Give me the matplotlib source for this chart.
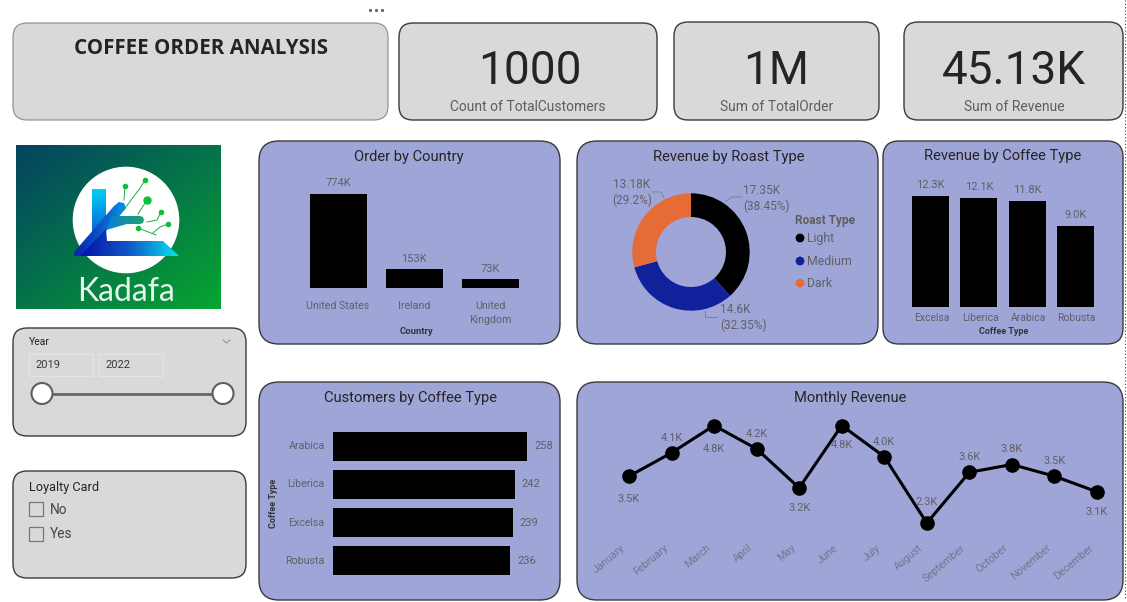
import numpy as np
import matplotlib
matplotlib.use("Agg")
import matplotlib.pyplot as plt
from matplotlib.patches import FancyBboxPatch, Rectangle, Circle, Polygon
from matplotlib.colors import LinearSegmentedColormap

W, H = 1127, 602

# ---- data ----
kpi_values = ["1000", "1M", "45.13K"]
kpi_labels = ["Count of TotalCustomers", "Sum of TotalOrder", "Sum of Revenue"]

countries = ["United States", "Ireland", "United\nKingdom"]
country_orders = [774, 153, 73]
country_labels = ["774K", "153K", "73K"]

roast_types = ["Light", "Medium", "Dark"]
roast_revenue = [17.35, 14.6, 13.18]
roast_labels = ["17.35K\n(38.45%)", "14.6K\n(32.35%)", "13.18K\n(29.2%)"]

coffee_types = ["Excelsa", "Liberica", "Arabica", "Robusta"]
coffee_revenue = [12.3, 12.1, 11.8, 9.0]
coffee_labels = ["12.3K", "12.1K", "11.8K", "9.0K"]

customer_types = ["Arabica", "Liberica", "Excelsa", "Robusta"]
customer_counts = [258, 242, 239, 236]

months = ["January", "February", "March", "April", "May", "June", "July",
          "August", "September", "October", "November", "December"]
monthly_revenue = [3.5, 4.1, 4.8, 4.2, 3.2, 4.8, 4.0, 2.3, 3.6, 3.8, 3.5, 3.1]

year_range = ["2019", "2022"]
loyalty_options = ["No", "Yes"]

# ---- style ----
CARD_GREY = "#d9d9d9"
CARD_BLUE = "#a0a5d8"
EDGE = "#3a3a3a"
TITLE = "#252423"
MUTED = "#605e5c"
LABEL = "#5f6068"
ROAST_COLORS = ["#000000", "#0f229c", "#e66c37"]
FONT = "Roboto"
plt.rcParams["font.family"] = [FONT, "DejaVu Sans"]

fig = plt.figure(figsize=(W / 100, H / 100), dpi=100, facecolor="white")
bg = fig.add_axes([0, 0, 1, 1])
bg.set_xlim(0, W)
bg.set_ylim(H, 0)
bg.axis("off")


def card(x0, y0, x1, y1, color, r=16, edge=EDGE, lw=1.0):
    bg.add_patch(FancyBboxPatch((x0 + r, y0 + r), x1 - x0 - 2 * r, y1 - y0 - 2 * r,
                                boxstyle=f"round,pad={r},rounding_size={r}",
                                fc=color, ec=edge, lw=lw, zorder=1))


def px_axes(x0, y0, x1, y1):
    ax = fig.add_axes([x0 / W, 1 - y1 / H, (x1 - x0) / W, (y1 - y0) / H], zorder=3)
    ax.patch.set_alpha(0)
    ax.axis("off")
    return ax


def txt(x, y, s, size=9, color=MUTED, ha="center", va="center", **kw):
    return bg.text(x, y, s, fontsize=size, color=color, ha=ha, va=va, zorder=5, **kw)


# ---- top row ----
bg.plot([370, 376, 382], [9.5, 9.5, 9.5], ls="none", marker="o", ms=1.3, color="#666666")
card(13, 23, 388, 120, CARD_GREY, r=14, edge="#8a8a8a", lw=0.8)
txt(201, 48, "COFFEE ORDER ANALYSIS", 14.8, TITLE, family="Open Sans", fontweight="bold")

kpi_boxes = [(399, 23, 657, 120), (674, 22, 879, 120), (904, 22, 1123, 120)]
for (x0, y0, x1, y1), v, l in zip(kpi_boxes, kpi_values, kpi_labels):
    card(x0, y0, x1, y1, CARD_GREY, r=14)
    c = (x0 + x1) / 2 + (2 if x0 < 600 else 0)
    txt(c, 71, v, 33, TITLE)
    txt(c - (2 if x0 < 600 else 0) + (1 if x0 > 900 else 0), 107, l, 10, MUTED)

# ---- logo ----
logo = px_axes(16, 145, 221, 309)
logo.set_xlim(16, 221)
logo.set_ylim(309, 145)
gy, gx = np.mgrid[0:1:120j, 0:1:160j]
c0, c1 = np.array([0x04, 0x42, 0x62]) / 255, np.array([0x06, 0xa6, 0x30]) / 255
logo.imshow(c0 + (c1 - c0) * ((gx + gy) / 2)[..., None], extent=(16, 221, 309, 145),
            aspect="auto", interpolation="bilinear")
logo.add_patch(Circle((126, 220), 53.3, fc="white", ec="none", zorder=2))


def grad_poly(pts, colors, horizontal=True, z=3):
    xs, ys = zip(*pts)
    ext = (min(xs), max(xs), max(ys), min(ys))
    ramp = np.linspace(0, 1, 64)
    ramp = ramp[None, :] if horizontal else ramp[:, None]
    cm = LinearSegmentedColormap.from_list("g", colors)
    im = logo.imshow(ramp, cmap=cm, extent=ext, aspect="auto", zorder=z, interpolation="bilinear")
    p = Polygon(pts, fc="none", ec="none", transform=logo.transData, joinstyle="round")
    logo.add_patch(p)
    im.set_clip_path(p)


grad_poly([(92, 189), (106, 189), (106, 226), (92, 241)], ["#00d0f5", "#0a50d0"], horizontal=False)
grad_poly([(75, 251), (114, 206), (119, 202), (124, 203), (126, 208), (122, 213), (84, 256), (74, 256)],
          ["#0a1fb0", "#0a8fe0"], horizontal=True, z=4)
grad_poly([(80, 256), (106, 229), (107, 241), (163, 241), (179, 256)],
          ["#0612a8", "#1058c8", "#06e4f0"], horizontal=True, z=4)
grad_poly([(112, 216), (140, 216), (143, 217), (144, 220), (143, 223), (140, 224), (127, 224), (106, 230)],
          ["#0a7fd8", "#22a070"], horizontal=True, z=5)
for seg in [[(125, 186), (124, 200)],
            [(145, 180), (139, 190), (137, 192), (123, 211)],
            [(147, 200), (138, 214)],
            [(161, 212), (157, 220), (147, 222)],
            [(168, 224), (160, 227), (153, 233)],
            [(138, 228), (156, 235)]]:
    xs, ys = zip(*seg)
    logo.plot(xs, ys, color="#16b04a", lw=0.7, zorder=6)
    logo.plot(xs[0], ys[0], "o", color="#0fbf3a", ms=3, zorder=6)
logo.plot(147, 200, "o", color="#0fbf3a", ms=5, zorder=6)
logo.text(126, 292, "Kadafa", fontsize=23, color="#e8f3ee", ha="center", va="center",
          family="Lato", zorder=6)

# ---- year slicer ----
card(13, 328, 246, 436, CARD_GREY, r=14)
txt(29, 342, "Year", 7.5, TITLE, ha="left")
bg.plot([223, 226.5, 230], [340, 343, 340], color="#8a8a8a", lw=0.7, zorder=5)
for (x0, x1), y in zip([(29, 93), (99, 163)], year_range):
    bg.add_patch(Rectangle((x0, 354), x1 - x0, 22, fc="none", ec="#e4e4e4", lw=0.9, zorder=4))
    txt(x0 + 6, 365, y, 8, "#3b3a39", ha="left")
bg.plot([42, 223], [393.5, 393.5], color="#666666", lw=2, zorder=4)
for x in (42, 223):
    bg.add_patch(Circle((x, 393.5), 10.5, fc="white", ec="#605e5c", lw=1.5, zorder=5))

# ---- loyalty slicer ----
card(13, 471, 246, 578, CARD_GREY, r=14)
txt(29, 487, "Loyalty Card", 9.2, TITLE, ha="left")
for y, opt in zip((509, 534), loyalty_options):
    bg.add_patch(Rectangle((29, y - 7), 13.5, 13.5, fc="none", ec="#777777", lw=0.9, zorder=4))
    txt(50, y + 0.5, opt, 9.8, "#444444", ha="left")

# ---- blue cards ----
card(259, 141, 560, 344, CARD_BLUE, r=20)
card(577, 141, 878, 344, CARD_BLUE, r=20)
card(883, 141, 1123, 344, CARD_BLUE, r=16)
card(259, 382, 560, 600, CARD_BLUE, r=20)
card(577, 382, 1123, 600, CARD_BLUE, r=20)
for x, y, s in [(409, 157, "Order by Country"), (729, 157, "Revenue by Roast Type"),
                (1003, 156, "Revenue by Coffee Type"), (410, 398, "Customers by Coffee Type"),
                (850, 398, "Monthly Revenue")]:
    txt(x, y, s, 10.65, TITLE)

# ---- order by country ----
ax = px_axes(300, 170, 528, 288)
ax.set_xlim(-0.5, 2.5)
ax.set_ylim(0, 774 * 118 / 94)
ax.bar(range(3), country_orders, width=0.75, color="black")
for i, (v, l) in enumerate(zip(country_orders, country_labels)):
    ax.annotate(l, (i, v), xytext=(0, 4), textcoords="offset points", ha="center",
                va="bottom", fontsize=8, color=LABEL)
    ax.annotate(countries[i], (i, 0), xytext=(0, -9.5), textcoords="offset points", ha="center",
                va="top", fontsize=7.7, color=LABEL, linespacing=1.5)
txt(416, 331, "Country", 6.8, "#33343a", fontweight="bold")

# ---- donut ----
R = 58.7
ax = px_axes(691 - 60, 252 - 60, 691 + 60, 252 + 60)
ax.pie(roast_revenue, colors=ROAST_COLORS, startangle=90, counterclock=False, radius=1,
       wedgeprops=dict(width=1 - 35 / R))
ax.set_xlim(-60 / R, 60 / R)
ax.set_ylim(-60 / R, 60 / R)
ax.set_aspect("auto")
txt(743, 198.5, roast_labels[0], 8.5, LABEL, ha="left", linespacing=1.25)
txt(720, 317.5, roast_labels[1], 8.5, LABEL, ha="left", linespacing=1.25)
txt(632, 193, roast_labels[2], 8.5, LABEL, ha="center", linespacing=1.25)
bg.plot([726, 732, 742], [201, 197, 197], color="#80828f", lw=0.7, zorder=4)
bg.plot([705, 705, 717], [311, 317, 317], color="#80828f", lw=0.7, zorder=4)
bg.plot([664, 661, 652], [198, 192, 192], color="#80828f", lw=0.7, zorder=4)
txt(795, 220.5, "Roast Type", 8.6, MUTED, ha="left", fontweight="bold")
for y, name, col in zip((238, 261, 283), roast_types, ROAST_COLORS):
    bg.add_patch(Circle((800, y), 4.4, fc=col, ec="none", zorder=5))
    txt(807, y + 0.5, name, 8.8, LABEL, ha="left")

# ---- revenue by coffee type ----
ax = px_axes(906.5, 175, 1099.5, 307)
ax.set_xlim(-0.5, 3.5)
ax.set_ylim(0, 132 / 9.02)
ax.bar(range(4), coffee_revenue, width=0.77, color="black")
for i, (v, l) in enumerate(zip(coffee_revenue, coffee_labels)):
    ax.annotate(l, (i, v), xytext=(0, 4), textcoords="offset points", ha="center",
                va="bottom", fontsize=8, color=LABEL)
    ax.annotate(coffee_types[i], (i, 0), xytext=(1, -4.5), textcoords="offset points", ha="center",
                va="top", fontsize=7.5, color=LABEL)
txt(1004, 332, "Coffee Type", 6.5, "#33343a", fontweight="bold")

# ---- customers by coffee type ----
ax = px_axes(333, 427, 555, 580)
ax.set_ylim(3.5, -0.5)
ax.set_xlim(0, 222 / 0.752)
ax.barh(range(4), customer_counts, height=0.76, color="black")
for i, v in enumerate(customer_counts):
    ax.annotate(str(v), (v, i), xytext=(5, 0), textcoords="offset points", ha="left",
                va="center", fontsize=8, color=LABEL)
    ax.annotate(customer_types[i], (0, i), xytext=(-6, 0), textcoords="offset points", ha="right",
                va="center", fontsize=7.7, color=LABEL)
txt(273, 503, "Coffee Type", 6.5, "#33343a", rotation=90, fontweight="bold")

# ---- monthly revenue ----
ax = px_axes(629, 405, 1097, 540)
ax.set_xlim(0, 11)
ax.set_ylim(2.3 - 17 / 39, 2.3 + 118 / 39)
ax.plot(range(12), monthly_revenue, color="black", lw=2.2, marker="o", ms=9.5, clip_on=False)
offsets = [-23, 15, -23, 15, -20, -19, 15, 21, 15, 15, 15, -20]
for i, (v, off) in enumerate(zip(monthly_revenue, offsets)):
    ax.annotate(f"{v:.1f}K", (i, v), xytext=(0, off * 0.72), textcoords="offset points",
                ha="center", va="center", fontsize=8, color=LABEL)
    ax.annotate(months[i], (i, 2.3 - 17 / 39), xytext=(-6, -2), textcoords="offset points",
                ha="right", va="top", rotation=40, rotation_mode="anchor",
                fontsize=7.7, color="#74758a", annotation_clip=False)

# ---- selection border dots ----
bg.plot([1124.5, 1124.5], [0, 600], color="#444444", lw=0.8, ls=(0, (1, 2)), zorder=6)

fig.savefig("out.png", dpi=100, facecolor="white")
